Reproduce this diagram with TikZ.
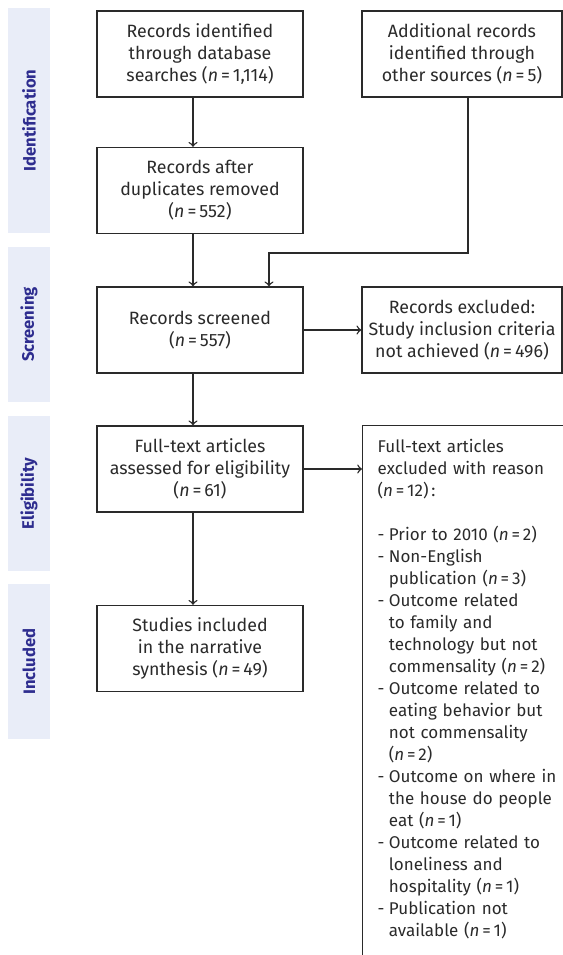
\documentclass[tikz,border=0pt]{standalone}
\usepackage{fontspec}
\setmainfont{Fira Sans}
\usepackage{tikz}
\usepackage{xcolor}
\definecolor{band}{HTML}{E9EDF8}
\definecolor{phase}{HTML}{2E2D8F}
\definecolor{ink}{HTML}{2A2A2A}
\tikzset{box/.style={ink,draw=ink,line width=0.7pt,rectangle,align=center,inner sep=0pt,minimum width=103pt,minimum height=43pt,font=\fontsize{8.9}{11}\selectfont}}
\tikzset{sidebox/.style={box,minimum width=100pt}}
\tikzset{listbox/.style={box,anchor=north west,align=left,text width=100pt,inner xsep=7.5pt,inner ysep=7pt,font=\fontsize{8.5}{11}\selectfont}}
\tikzset{band/.style={phase,fill=band,rectangle,rotate=90,minimum height=21pt,font=\bfseries\fontsize{8.3}{10}\selectfont}}
\tikzset{link/.style={ink,line width=0.7pt}}
\newcommand{\nn}[1]{(\textit{n}\,=\,#1)}
\newcommand{\dsh}{-\hspace{2.2pt}}
\newcommand{\ind}{\hphantom{-}\hspace{2.2pt}}

\begin{document}
\begin{tikzpicture}[x=0.5pt,y=-0.5pt]
    \clip (0,0) rectangle (563,955);

    \node[band,minimum width=112.5pt] (bid) at (29,120.5) {Identification};
    \node[band,minimum width=77.5pt] (bsc) at (29,324.5) {Screening};
    \node[band,minimum width=77.5pt] (bel) at (29,493.5) {Eligibility};
    \node[band,minimum width=77.5pt] (bin) at (29,661.5) {Included};

    \node[box] (ident) at (200,54) {Records identified\\through database\\searches \nn{1,114}};
    \node[sidebox] (other) at (462,54) {Additional records\\identified through\\other sources \nn{5}};
    \node[box] (dup) at (200,190.5) {Records after\\duplicates removed\\\nn{552}};
    \node[box] (screen) at (200,330) {Records screened\\\nn{557}};
    \node[sidebox] (excl) at (462,330) {Records excluded:\\Study inclusion criteria\\not achieved \nn{496}};
    \node[box] (full) at (200,469) {Full-text articles\\assessed for eligibility\\\nn{61}};
    \node[box] (incl) at (200,648.5) {Studies included\\in the narrative\\synthesis \nn{49}};

    \node[listbox,text depth=265pt] (excl2) at (362,425) {Full-text articles\\excluded with reason\\\nn{12}\,:\\[11pt]
      \dsh Prior to 2010 \nn{2}\\
      \dsh Non-English\\\ind publication \nn{3}\\
      \dsh Outcome related\\\ind to family and\\\ind technology but not\\\ind commensality \nn{2}\\
      \dsh Outcome related to\\\ind eating behavior but\\\ind not commensality\\\ind \nn{2}\\
      \dsh Outcome on where in\\\ind the house do people\\\ind eat \nn{1}\\
      \dsh Outcome related to\\\ind loneliness and\\\ind hospitality \nn{1}\\
      \dsh Publication not\\\ind available \nn{1}};

    \coordinate (join) at (269,253);

    \draw[link,->] ([xshift=-3.5pt]ident.south) -- ([xshift=-3.5pt]dup.north);
    \draw[link,->] ([xshift=-3.5pt]dup.south) -- ([xshift=-3.5pt]screen.north);
    \draw[link,->] ([xshift=3pt]other.south) |- (join) -- (join |- screen.north);

    \draw[link,->] (screen) -- (excl);
    \draw[link,->] ([xshift=-3.5pt]screen.south) -- ([xshift=-3.5pt]full.north);

    \draw[link,->] (full.east) -- (full.east -| excl2.west);
    \draw[link,->] ([xshift=-3.5pt]full.south) -- ([xshift=-3.5pt]incl.north);
\end{tikzpicture}
\end{document}
